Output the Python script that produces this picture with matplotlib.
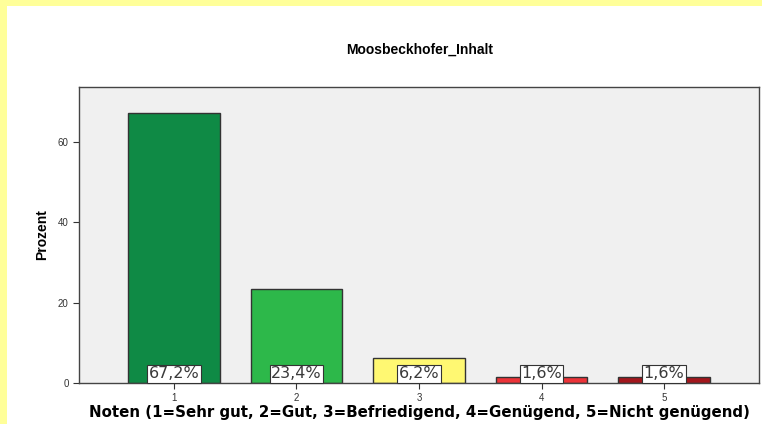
import matplotlib
matplotlib.use("Agg")
import matplotlib.pyplot as plt
from matplotlib.patches import Rectangle

# === DATA ===
categories = [1, 2, 3, 4, 5]
prozent = [67.2, 23.4, 6.2, 1.6, 1.6]
labels = ["67,2%", "23,4%", "6,2%", "1,6%", "1,6%"]
colors = ["#0f8a45", "#2db84a", "#fff872", "#ec3338", "#a3161c"]
yticks = [0, 20, 40, 60]

plt.rcParams['font.family'] = ['Liberation Sans', 'DejaVu Sans']

fig = plt.figure(figsize=(7.62, 4.24), dpi=100)
fig.patch.set_facecolor("#ffff99")
# white panel inside the yellow frame
fig.patches.append(Rectangle((7 / 762, 0), 1, 1 - 6 / 424, transform=fig.transFigure,
                             facecolor="white", edgecolor="none", zorder=-10))

ax = fig.add_axes([79 / 762, 41 / 424, 680 / 762, 296 / 424])
ax.set_facecolor("#f0f0f0")

ax.bar(categories, prozent, width=0.75, color=colors, edgecolor="#333333", linewidth=1.0, zorder=2)

for x, lab in zip(categories, labels):
    ax.text(x, 0.4, lab, ha="center", va="bottom", fontsize=11.5, color="#3a3a3a", zorder=4,
            family="DejaVu Sans",
            bbox=dict(boxstyle="square,pad=0.08", facecolor="white", edgecolor="#333333", linewidth=0.8))

ax.set_xlim(0.225, 5.775)
ax.set_ylim(0, 73.7)
ax.set_xticks(categories)
ax.set_yticks(yticks)
ax.tick_params(axis="both", labelsize=7, colors="#333333", length=4, width=0.8)
for sp in ax.spines.values():
    sp.set_color("#444444")
    sp.set_linewidth(1.0)

ax.set_ylabel("Prozent", fontsize=10, fontweight="bold", labelpad=6,
              family=["Liberation Sans Narrow", "Liberation Sans"])
ax.set_xlabel("Noten (1=Sehr gut, 2=Gut, 3=Befriedigend, 4=Genügend, 5=Nicht genügend)",
              fontsize=10.8, fontweight="bold", family="DejaVu Sans", labelpad=1)
fig.text(420 / 762, 1 - 50 / 424, "Moosbeckhofer_Inhalt", ha="center", va="center",
         fontsize=10, fontweight="bold")

fig.savefig("out.png", dpi=100, facecolor=fig.get_facecolor())
